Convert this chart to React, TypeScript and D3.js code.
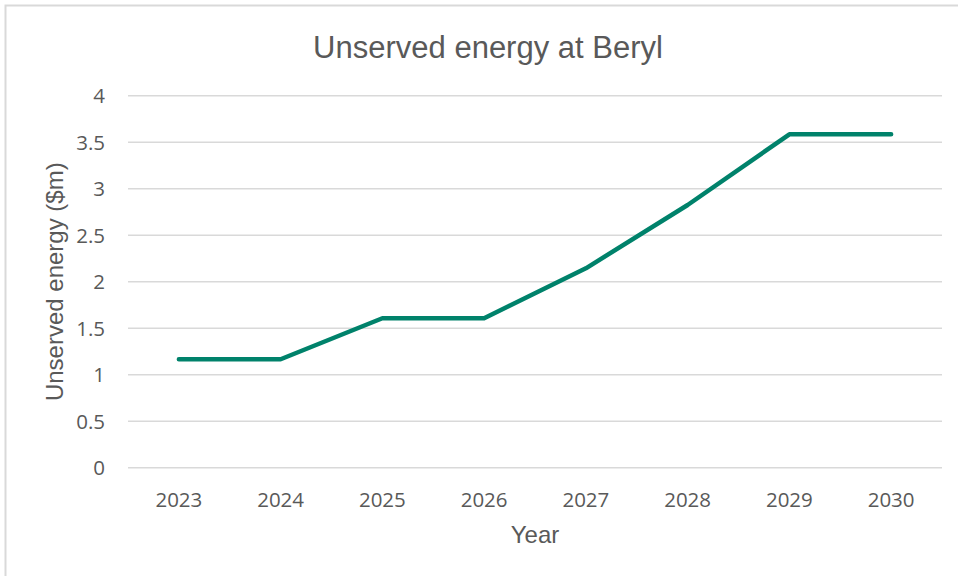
import { useEffect, useRef } from "react";
import * as d3 from "d3";

const years = ["2023", "2024", "2025", "2026", "2027", "2028", "2029", "2030"];
const unservedEnergy = [1.166, 1.166, 1.607, 1.607, 2.144, 2.825, 3.585, 3.585];
const yTicks = [0, 0.5, 1, 1.5, 2, 2.5, 3, 3.5, 4];

const WIDTH = 958;
const HEIGHT = 576;
const MARGIN = { top: 95.7, right: 16, bottom: 108.3, left: 128 };

const TEXT = "#595959";
const GRID = "#d9d9d9";
const LINE = "#00826b";

export default function App() {
  const svgRef = useRef<SVGSVGElement | null>(null);

  useEffect(() => {
    const svgEl = svgRef.current;
    if (!svgEl) return;
    const svg = d3.select(svgEl);
    svg.selectAll("*").remove();

    const plotBottom = HEIGHT - MARGIN.bottom;
    const plotRight = WIDTH - MARGIN.right;

    const x = d3.scaleBand<string>().domain(years).range([MARGIN.left, plotRight]);
    const y = d3.scaleLinear().domain([0, 4]).range([plotBottom, MARGIN.top]);

    // chart border
    svg
      .append("rect")
      .attr("x", 5.5)
      .attr("y", 5.5)
      .attr("width", WIDTH)
      .attr("height", HEIGHT)
      .attr("fill", "#fff")
      .attr("stroke", GRID)
      .attr("stroke-width", 2);

    // title
    svg
      .append("text")
      .attr("x", (MARGIN.left + plotRight) / 2 - 47)
      .attr("y", 58)
      .attr("text-anchor", "middle")
      .attr("font-family", "Liberation Sans, Arial, sans-serif")
      .attr("font-size", 31)
      .attr("fill", TEXT)
      .text("Unserved energy at Beryl");

    // gridlines
    svg
      .append("g")
      .selectAll("line")
      .data(yTicks)
      .join("line")
      .attr("x1", MARGIN.left)
      .attr("x2", plotRight)
      .attr("y1", (d) => y(d))
      .attr("y2", (d) => y(d))
      .attr("stroke", GRID)
      .attr("stroke-width", 1.5);

    // y tick labels
    svg
      .append("g")
      .selectAll("text")
      .data(yTicks)
      .join("text")
      .attr("x", 105)
      .attr("y", (d) => y(d))
      .attr("dy", "0.36em")
      .attr("text-anchor", "end")
      .attr("font-family", "Open Sans, sans-serif")
      .attr("font-size", 20.5)
      .attr("fill", TEXT)
      .text((d) => String(d));

    // x tick labels
    svg
      .append("g")
      .selectAll("text")
      .data(years)
      .join("text")
      .attr("x", (d) => (x(d) ?? 0) + x.bandwidth() / 2)
      .attr("y", 506.5)
      .attr("text-anchor", "middle")
      .attr("font-family", "Open Sans, sans-serif")
      .attr("font-size", 20.5)
      .attr("fill", TEXT)
      .text((d) => d);

    // axis titles
    svg
      .append("text")
      .attr("x", (MARGIN.left + plotRight) / 2)
      .attr("y", 543)
      .attr("text-anchor", "middle")
      .attr("font-family", "Liberation Sans, Arial, sans-serif")
      .attr("font-size", 24)
      .attr("fill", TEXT)
      .text("Year");

    svg
      .append("text")
      .attr("transform", `translate(63, ${(MARGIN.top + plotBottom) / 2}) rotate(-90)`)
      .attr("text-anchor", "middle")
      .attr("font-family", "Liberation Sans, Arial, sans-serif")
      .attr("font-size", 24)
      .attr("fill", TEXT)
      .text("Unserved energy ($m)");

    // line
    const line = d3
      .line<number>()
      .x((_, i) => (x(years[i]) ?? 0) + x.bandwidth() / 2)
      .y((d) => y(d));

    svg
      .append("path")
      .datum(unservedEnergy)
      .attr("d", line)
      .attr("fill", "none")
      .attr("stroke", LINE)
      .attr("stroke-width", 4.5)
      .attr("stroke-linecap", "round")
      .attr("stroke-linejoin", "round");
  }, []);

  return (
    <svg
      ref={svgRef}
      width={WIDTH}
      height={HEIGHT}
      style={{ position: "absolute", left: 0, top: 0 }}
    />
  );
}
